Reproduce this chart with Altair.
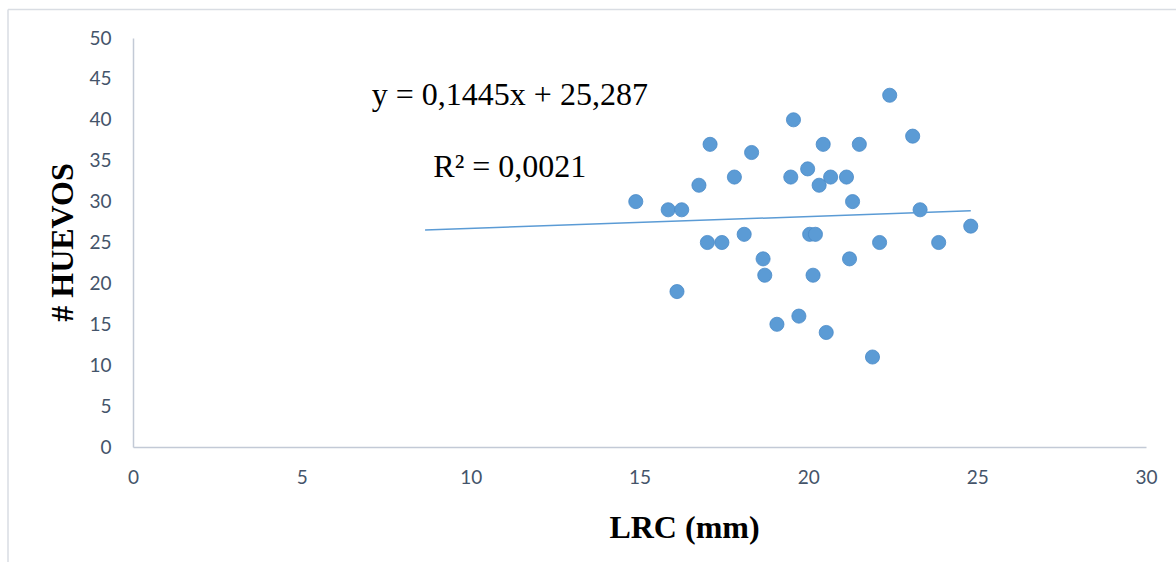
import altair as alt
import pandas as pd

# Data
lrc_mm = [14.89, 15.85, 16.25, 16.76, 17.09, 17.81, 18.32, 17.01, 17.44, 18.10,
          16.11, 18.66, 18.71, 19.07, 19.56, 19.48, 19.72, 19.98, 20.32, 20.44,
          20.66, 21.13, 20.04, 20.21, 20.14, 20.53, 21.31, 21.22, 21.51, 22.11,
          21.90, 22.41, 23.09, 23.31, 23.86, 24.81]
huevos = [30, 29, 29, 32, 37, 33, 36, 25, 25, 26,
          19, 23, 21, 15, 40, 33, 16, 34, 32, 37,
          33, 33, 26, 26, 21, 14, 30, 23, 37, 25,
          11, 43, 38, 29, 25, 27]

slope = 0.1445
intercept = 25.287
trend_x = [8.65, 24.81]

ann_text = ["y = 0,1445x + 25,287", "R² = 0,0021"]
ann_x = [11.16, 11.16]
ann_y = [43.0, 34.2]

pts = pd.DataFrame({"LRC": lrc_mm, "HUEVOS": huevos})
trend = pd.DataFrame({"LRC": trend_x, "HUEVOS": [slope * v + intercept for v in trend_x]})
ann = pd.DataFrame({"text": ann_text, "LRC": ann_x, "HUEVOS": ann_y})

W, H = 1013, 409
tick_font = "Lato"
tick_color = "#44546A"
axis_color = "#C3CAD6"

xscale = alt.Scale(domain=[0, 30], nice=False, zero=True)
yscale = alt.Scale(domain=[0, 50], nice=False, zero=True)

xaxis = alt.Axis(values=[0, 5, 10, 15, 20, 25, 30], grid=False, ticks=False,
                 domainColor=axis_color, domainWidth=1.5,
                 labelFont=tick_font, labelFontSize=19, labelColor=tick_color,
                 labelPadding=21, labelFlush=False,
                 title="LRC (mm)", titleFont="Liberation Serif", titleFontSize=32,
                 titleFontWeight="bold", titleColor="#000000",
                 titleX=551, titleY=80, titleBaseline="middle", titleAnchor="middle")
yaxis = alt.Axis(values=[0, 5, 10, 15, 20, 25, 30, 35, 40, 45, 50], grid=False, ticks=False,
                 domainColor=axis_color, domainWidth=1.5,
                 labelFont=tick_font, labelFontSize=19, labelColor=tick_color,
                 labelPadding=22, labelFlush=False,
                 title="# HUEVOS", titleFont="Liberation Serif", titleFontSize=32,
                 titleFontWeight="bold", titleColor="#000000",
                 titleAngle=-90, titleX=-71, titleY=204, titleBaseline="middle",
                 titleAnchor="middle")

points = alt.Chart(pts).mark_circle(size=200, color="#5B9BD5", opacity=1,
                                    stroke="#4A8AC8", strokeWidth=0.8).encode(
    x=alt.X("LRC:Q", scale=xscale, axis=xaxis),
    y=alt.Y("HUEVOS:Q", scale=yscale, axis=yaxis),
)

line = alt.Chart(trend).mark_line(color="#5B9BD5", strokeWidth=1.5).encode(
    x=alt.X("LRC:Q", scale=xscale, axis=xaxis),
    y=alt.Y("HUEVOS:Q", scale=yscale, axis=yaxis),
)

labels = alt.Chart(ann).mark_text(font="Liberation Serif", fontSize=32,
                                  color="#000000", align="center",
                                  baseline="middle").encode(
    x=alt.X("LRC:Q", scale=xscale, axis=xaxis),
    y=alt.Y("HUEVOS:Q", scale=yscale, axis=yaxis),
    text="text:N",
)

frame_top = alt.Chart(pd.DataFrame({"k": [0]})).mark_rule(color="#D9DDE3", strokeWidth=1.5).encode(
    x=alt.value(-125), x2=alt.value(1043), y=alt.value(-28.5)
)
frame_left = alt.Chart(pd.DataFrame({"k": [0]})).mark_rule(color="#D9DDE3", strokeWidth=1.5).encode(
    x=alt.value(-125), y=alt.value(-28.5), y2=alt.value(524)
)

chart = alt.layer(frame_top, frame_left, points, line, labels).properties(
    width=W, height=H,
    background="white",
    autosize=alt.AutoSizeParams(type="none"),
    padding={"left": 133, "top": 38, "right": 30, "bottom": 115},
).configure_view(
    strokeWidth=0, stroke="transparent", strokeOpacity=0
).configure_axis(grid=False)

chart.save("out.html", embed_options={"renderer": "svg", "actions": False})
